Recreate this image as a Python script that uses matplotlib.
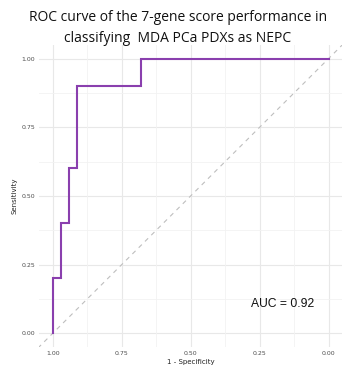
import matplotlib
matplotlib.use("Agg")
import matplotlib.pyplot as plt

# ROC data (specificity on reversed axis, sensitivity)
specificity = [1.00, 1.00, 0.971, 0.971, 0.941, 0.941, 0.912, 0.912, 0.68, 0.68, 0.00]
sensitivity = [0.00, 0.20, 0.20, 0.40, 0.40, 0.60, 0.60, 0.90, 0.90, 1.00, 1.00]
ticks = [1.00, 0.75, 0.50, 0.25, 0.00]
tick_labels = ["1.00", "0.75", "0.50", "0.25", "0.00"]
minor = [0.875, 0.625, 0.375, 0.125]
auc_text = "AUC = 0.92"
title_lines = ["ROC curve of the 7-gene score performance in",
               "classifying  MDA PCa PDXs as NEPC"]

fig = plt.figure(figsize=(3.43, 3.71), dpi=100)
ax = fig.add_axes([0.114, 0.065, 0.884, 0.814])

ax.set_xlim(1.05, -0.05)
ax.set_ylim(-0.05, 1.05)

for v in ticks:
    ax.axvline(v, color="#E8E8E8", lw=0.8, zorder=0)
    ax.axhline(v, color="#E8E8E8", lw=0.8, zorder=0)
for v in minor:
    ax.axvline(v, color="#F2F2F2", lw=0.6, zorder=0)
    ax.axhline(v, color="#F2F2F2", lw=0.6, zorder=0)

ax.plot([1.1, -0.1], [-0.1, 1.1], color="#BEBEBE", lw=0.8, ls=(0, (4, 4)), zorder=1)
ax.plot(specificity, sensitivity, color="#8A3FAE", lw=1.5, zorder=2,
        solid_joinstyle="miter")

ax.set_xticks(ticks)
ax.set_xticklabels(tick_labels)
ax.set_yticks(ticks)
ax.set_yticklabels(tick_labels)
ax.tick_params(length=0, labelsize=4.5, labelcolor="#4D4D4D", pad=3)
for s in ax.spines.values():
    s.set_visible(False)

ax.set_xlabel("1 - Specificity", fontsize=5, color="#222222", labelpad=2)
ax.set_ylabel("Sensitivity", fontsize=5, color="#222222", labelpad=3)

ax.text(0.28, 0.105, auc_text, fontsize=8.7, color="#111111", ha="left", va="center",
        family="Liberation Sans")

for i, line in enumerate(title_lines):
    fig.text(0.519, 1 - (21 + 21 * i) / 371, line, ha="center", va="baseline",
             fontsize=10.0, family="Open Sans", color="#111111")

fig.savefig("out.png", dpi=100)
